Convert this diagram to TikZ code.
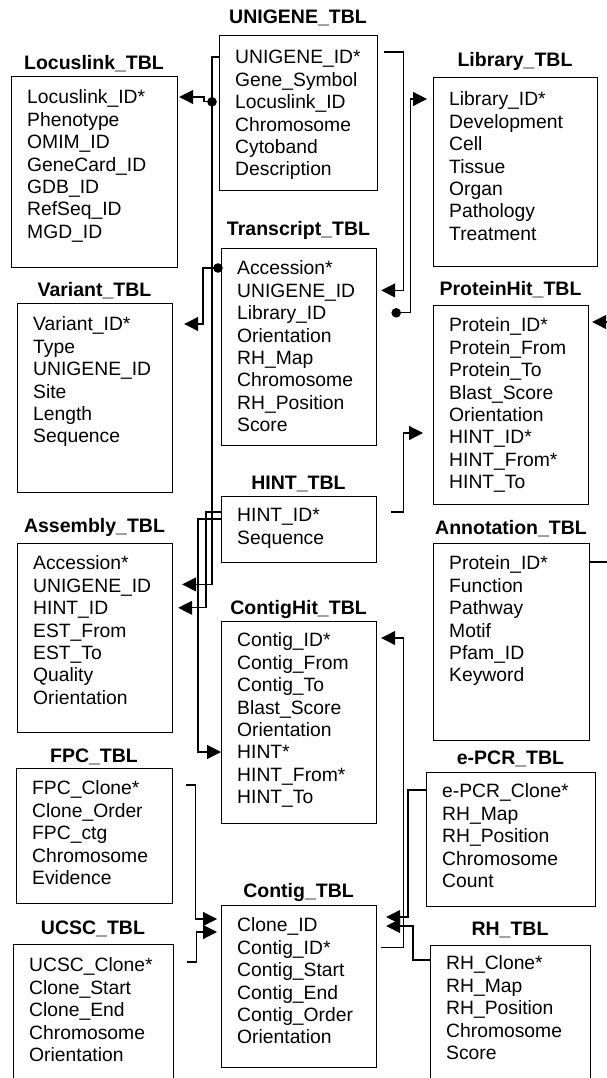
\documentclass[tikz,border=0pt]{standalone}
\usepackage{fontspec}
\setmainfont{Liberation Sans}
\usetikzlibrary{arrows.meta,calc}
\tikzset{
  tblbox/.style={draw, line width=1.2pt, inner sep=0pt, anchor=north west},
  rowtxt/.style={anchor=west, inner sep=0pt, font=\fontsize{19.3}{22}\selectfont, text height=13.9pt, text depth=0pt},
  ttl/.style={anchor=center, inner sep=0pt, font=\fontsize{19.5}{22}\selectfont\bfseries, text height=14pt, text depth=0pt},
  conn/.style={line width=1.2pt},
  arr/.style={conn, -{Triangle[length=14pt,width=14pt]}}
}
\newcommand{\dbtbl}[9]{%
  \pgfmathsetmacro{\tblw}{#4-#2}%
  \pgfmathsetmacro{\tblh}{#5-#3}%
  \node[tblbox, minimum width=\tblw pt, minimum height=\tblh pt] (#1) at (#2,#3) {};
  \node[ttl] (#1-t) at ({(#2+#4)/2},#6) {#7};
  \foreach \rowname [count=\rowidx] in {#9} {
    \node[rowtxt] (#1-\rowidx) at ({#2+16},{#3+#8+(\rowidx-1)*22.4}) {\rowname};
  }
}
\begin{document}
\begin{tikzpicture}[x=1pt,y=-1pt]
\useasboundingbox (0,0) rectangle (607,1078);
\clip (0,0) rectangle (607,1078);
\fill[white] (0,0) rectangle (607,1078);

\dbtbl{unigene}{219}{35}{377}{190}{17}{UNIGENE\_TBL}{22}{UNIGENE\_ID*,Gene\_Symbol,Locuslink\_ID,Chromosome,Cytoband,Description}
\dbtbl{locuslink}{11}{76}{177}{267}{63}{Locuslink\_TBL}{21}{Locuslink\_ID*,Phenotype,OMIM\_ID,GeneCard\_ID,GDB\_ID,RefSeq\_ID,MGD\_ID}
\dbtbl{library}{433}{77}{597}{266}{60}{Library\_TBL}{22}{Library\_ID*,Development,Cell,Tissue,Organ,Pathology,Treatment}
\dbtbl{transcript}{221}{248}{376}{445}{228}{Transcript\_TBL}{20}{Accession*,UNIGENE\_ID,Library\_ID,Orientation,RH\_Map,Chromosome,RH\_Position,Score}
\dbtbl{variant}{17}{303}{172}{492}{289}{Variant\_TBL}{21}{Variant\_ID*,Type,UNIGENE\_ID,Site,Length,Sequence}
\dbtbl{proteinhit}{433}{305}{588}{504}{288}{ProteinHit\_TBL}{20}{Protein\_ID*,Protein\_From,Protein\_To,Blast\_Score,Orientation,HINT\_ID*,HINT\_From*,HINT\_To}
\dbtbl{hint}{221}{496}{376}{562}{482}{HINT\_TBL}{19}{HINT\_ID*,Sequence}
\dbtbl{assembly}{17}{543}{172}{732}{525}{Assembly\_TBL}{20}{Accession*,UNIGENE\_ID,HINT\_ID,EST\_From,EST\_To,Quality,Orientation}
\dbtbl{annotation}{433}{543}{589}{740}{527}{Annotation\_TBL}{20}{Protein\_ID*,Function,Pathway,Motif,Pfam\_ID,Keyword}
\dbtbl{contighit}{221}{621}{376}{823}{607}{ContigHit\_TBL}{19}{Contig\_ID*,Contig\_From,Contig\_To,Blast\_Score,Orientation,HINT*,HINT\_From*,HINT\_To}
\dbtbl{fpc}{16}{768}{172}{903}{755}{FPC\_TBL}{20}{FPC\_Clone*,Clone\_Order,FPC\_ctg,Chromosome,Evidence}
\dbtbl{epcr}{426}{772}{595}{906}{757}{e-PCR\_TBL}{19}{e-PCR\_Clone*,RH\_Map,RH\_Position,Chromosome,Count}
\dbtbl{contig}{221}{905}{376}{1067}{890}{Contig\_TBL}{20}{Clone\_ID,Contig\_ID*,Contig\_Start,Contig\_End,Contig\_Order,Orientation}
\dbtbl{ucsc}{13}{944}{173}{1090}{927}{UCSC\_TBL}{21}{UCSC\_Clone*,Clone\_Start,Clone\_End,Chromosome,Orientation}
\dbtbl{rh}{430}{945}{590}{1090}{928}{RH\_TBL}{18}{RH\_Clone*,RH\_Map,RH\_Position,Chromosome,Score}

% UNIGENE_ID* -> Assembly
\draw[arr] (unigene.west |- unigene-1) -- ++(-7,0) |- ([xshift=9pt,yshift=1pt]assembly.east |- assembly-2);
% Locuslink_ID -> Locuslink
\coordinate (d1) at ([xshift=-7pt]unigene.west |- unigene-3);
\fill (d1) circle[radius=4.8pt];
\draw[arr] (d1) -- ++(-8,0) |- ([xshift=1pt]locuslink.east |- locuslink-1);
% UNIGENE_ID* -> Transcript
\draw[arr] ([xshift=6pt,yshift=5pt]unigene.east |- unigene-1) -- ++(19,0) |- ([xshift=4pt]transcript.east |- transcript-2);
% Transcript Library_ID -> Library
\coordinate (d2) at ([xshift=19pt]transcript.east |- transcript-3);
\fill (d2) circle[radius=4.8pt];
\draw[arr] (d2) -- ++(14,0) |- ([xshift=-6pt]library.west |- library-1);
% Transcript Accession -> Variant
\coordinate (d3) at ([xshift=-3pt]transcript.west |- transcript-1);
\fill (d3) circle[radius=4.8pt];
\draw[arr] (d3) -- ++(-15,0) |- ([xshift=11pt]variant.east |- variant-1);
% HINT -> Assembly, ContigHit
\draw[arr] ([yshift=3pt]hint.west |- hint-1) -- ++(-15,0) |- ([xshift=5pt]assembly.east |- assembly-3);
\draw[arr] ([yshift=-4pt]hint.west |- hint-1) -- ++(-23,0) |- (contighit.west |- contighit-6);
% HINT -> ProteinHit
\draw[arr] ([xshift=14pt,yshift=3pt]hint.east |- hint-1) -- ++(12,0) |- ([xshift=-10pt,yshift=4pt]proteinhit.west |- proteinhit-6);
% Contig -> ContigHit
\draw[arr] ([xshift=4pt]contig.east |- contig-2) -- ++(22,0) |- ([xshift=4pt,yshift=2pt]contighit.east |- contighit-1);
% e-PCR, RH -> Contig
\draw[arr] ([yshift=1pt]epcr.west |- epcr-1) -- ++(-18,0) |- ([xshift=9pt,yshift=8pt]contig.east |- contig-1);
\draw[arr] ([yshift=3pt]rh.west |- rh-1) -- ++(-17,0) |- ([xshift=9pt,yshift=-1pt]contig.east |- contig-1);
% FPC, UCSC -> Contig
\draw[arr] ([xshift=13pt,yshift=3pt]fpc.east |- fpc-1) -- ++(9,0) |- ([xshift=-4pt,yshift=6pt]contig.west |- contig-1);
\draw[arr] ([xshift=13pt,yshift=3pt]ucsc.east |- ucsc-1) -- ++(9,0) |- ([xshift=-4pt,yshift=-7pt]contig.west |- contig-1);
% Annotation -> ProteinHit
\draw[arr] ([yshift=1pt]annotation.east |- annotation-1) -- ++(30,0) |- ([xshift=3pt,yshift=3pt]proteinhit.east |- proteinhit-1);
\end{tikzpicture}
\end{document}
